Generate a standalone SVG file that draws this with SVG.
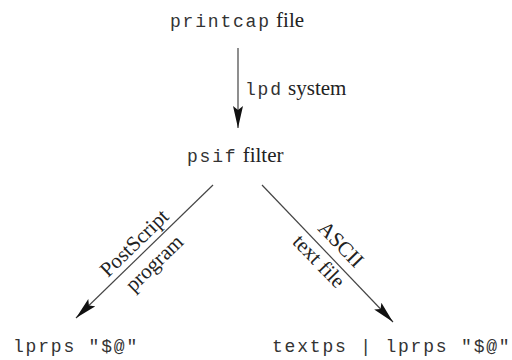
<svg xmlns="http://www.w3.org/2000/svg" width="512" height="360" viewBox="0 0 512 360">
<style>
.mono{font-family:"Liberation Mono","Courier New",monospace;font-size:18px;letter-spacing:1.8px;fill:#333}
.serif{font-family:"Liberation Serif","Times New Roman",serif;font-size:21px;fill:#222}
.lbl{font-family:"Liberation Serif","Times New Roman",serif;font-size:21px;fill:#222}
.conn{stroke:#444;stroke-width:1.2;fill:none}
</style>
<defs>
<marker id="ah" markerUnits="userSpaceOnUse" markerWidth="24" markerHeight="12" refX="22" refY="6" orient="auto">
<path d="M0,1 L22,6 L0,11 L4,6 Z" fill="#111"/>
</marker>
</defs>
<rect width="512" height="360" fill="#fff"/>
<g id="connectors">
<line class="conn" x1="238" y1="48" x2="238" y2="128" marker-end="url(#ah)"/>
<line class="conn" x1="213" y1="185" x2="76" y2="318" marker-end="url(#ah)"/>
<line class="conn" x1="262" y1="185" x2="393" y2="322" marker-end="url(#ah)"/>
<text class="serif" x="245" y="95"><tspan class="mono">lpd</tspan> system</text>
<text class="lbl" text-anchor="middle" transform="translate(139,248) rotate(-44)">PostScript</text>
<text class="lbl" text-anchor="middle" transform="translate(159,268) rotate(-44)">program</text>
<text class="lbl" text-anchor="middle" transform="translate(336,249) rotate(46)">ASCII</text>
<text class="lbl" text-anchor="middle" transform="translate(314,266) rotate(46)">text file</text>
</g>
<g id="printcap">
<text class="serif" x="170" y="27"><tspan class="mono">printcap</tspan> file</text>
</g>
<g id="psif">
<text class="serif" x="187" y="162"><tspan class="mono">psif</tspan> filter</text>
</g>
<g id="lprps">
<text class="mono" x="13" y="352" xml:space="preserve">lprps "$@"</text>
</g>
<g id="textps">
<text class="mono" x="272" y="352" xml:space="preserve">textps | lprps "$@"</text>
</g>
</svg>
